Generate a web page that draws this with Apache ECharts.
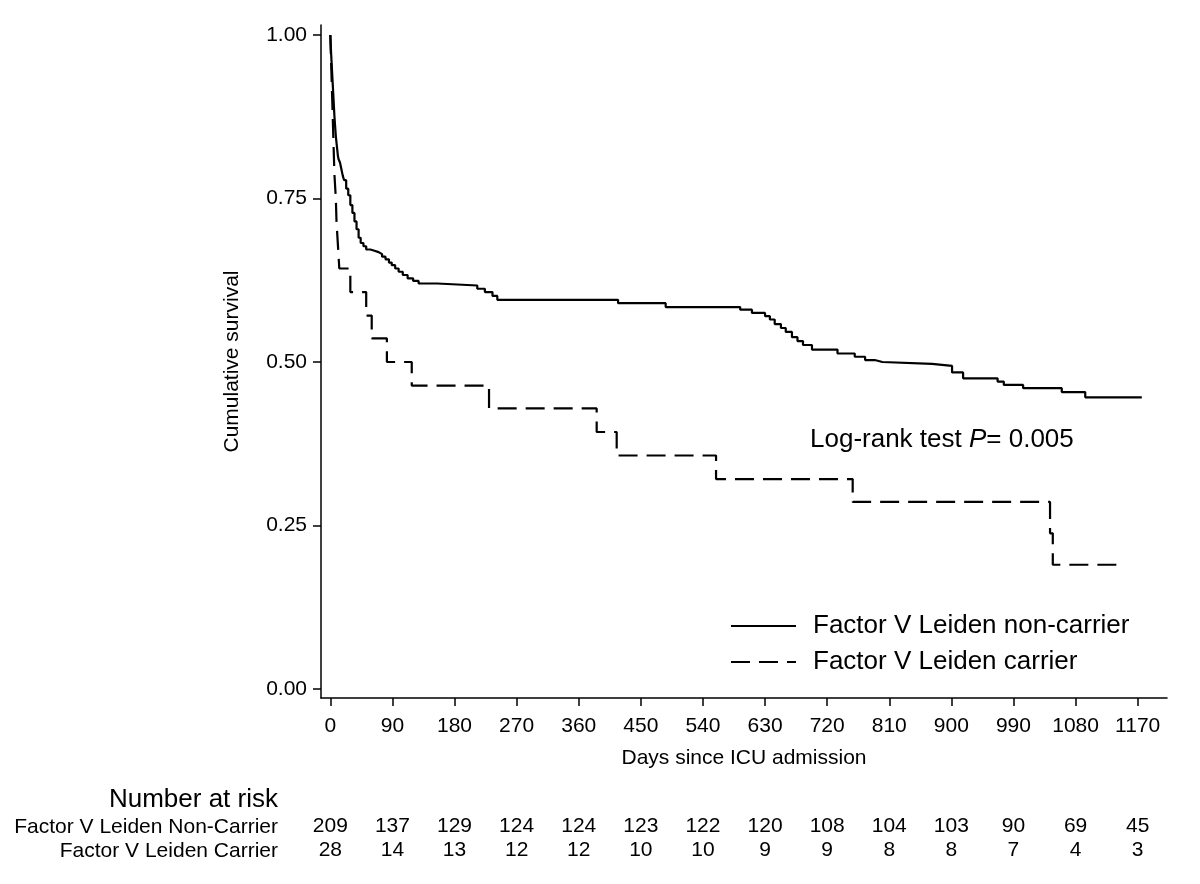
<!DOCTYPE html>
<html>
<head>
<meta charset="utf-8">
<script src="https://cdn.jsdelivr.net/npm/echarts@6/dist/echarts.min.js"></script>
<style>html,body{margin:0;padding:0;background:#fff;}#c{width:1200px;height:884px;}</style>
</head>
<body>
<div id="c"></div>
<script>
// ---- data ----
const xTicks = [0, 90, 180, 270, 360, 450, 540, 630, 720, 810, 900, 990, 1080, 1170];
const yTicks = [0, 0.25, 0.5, 0.75, 1.0];
const riskNonCarrier = [209, 137, 129, 124, 124, 123, 122, 120, 108, 104, 103, 90, 69, 45];
const riskCarrier = [28, 14, 13, 12, 12, 10, 10, 9, 9, 8, 8, 7, 4, 3];

const nonCarrierDays = [0, 1, 2, 3, 4, 5, 6, 7, 8, 9, 10, 11, 12, 14, 16, 18, 20, 23, 26, 29, 32, 35, 38, 41, 44, 48, 52, 58, 64, 70, 75, 80, 85, 89, 94, 99, 105, 112, 120, 128, 155, 213, 224, 235, 242, 417, 486, 594, 611, 630, 637, 644, 653, 660, 669, 677, 685, 698, 735, 760, 775, 789, 800, 872, 901, 917, 967, 976, 1004, 1060, 1094, 1176];
const nonCarrierSurv = [1.0, 0.975, 0.955, 0.935, 0.915, 0.895, 0.875, 0.86, 0.845, 0.835, 0.825, 0.815, 0.81, 0.805, 0.795, 0.785, 0.778, 0.765, 0.755, 0.74, 0.728, 0.715, 0.703, 0.69, 0.682, 0.677, 0.672, 0.67, 0.668, 0.665, 0.661, 0.657, 0.652, 0.648, 0.643, 0.638, 0.633, 0.628, 0.624, 0.62, 0.617, 0.612, 0.607, 0.601, 0.595, 0.590, 0.584, 0.580, 0.575, 0.570, 0.565, 0.558, 0.552, 0.546, 0.538, 0.532, 0.526, 0.519, 0.513, 0.508, 0.503, 0.500, 0.497, 0.494, 0.484, 0.475, 0.470, 0.465, 0.460, 0.454, 0.446, 0.446];

const carrierDays = [0, 1, 2, 3, 4, 5, 6, 8, 9, 11, 13, 29, 52, 60, 82, 118, 230, 386, 415, 559, 757, 1043, 1047, 1149];
const carrierSurv = [1.0, 0.964, 0.929, 0.893, 0.857, 0.821, 0.786, 0.75, 0.714, 0.679, 0.643, 0.607, 0.571, 0.536, 0.5, 0.464, 0.429, 0.393, 0.357, 0.321, 0.286, 0.238, 0.19, 0.19];

const seriesNames = ['Factor V Leiden non-carrier', 'Factor V Leiden carrier'];
const rowLabels = ['Factor V Leiden Non-Carrier', 'Factor V Leiden Carrier'];

// ---- chart ----
const FONT = '"Liberation Sans", Arial, Helvetica, sans-serif';
const chart = echarts.init(document.getElementById('c'), null, {renderer: 'canvas'});
const xMin = -13.5, xMax = 1212.5;
const axisLine = {show: true, onZero: false, lineStyle: {color: '#000', width: 1.5}};

function riskAxis(values, offset) {
  return {
    type: 'value', gridIndex: 0, position: 'bottom', offset: offset,
    min: xMin, max: xMax,
    axisLine: {show: false}, axisTick: {show: false}, splitLine: {show: false},
    axisLabel: {
      customValues: xTicks, margin: 8, fontSize: 21, color: '#000', fontFamily: FONT,
      formatter: v => { const i = xTicks.indexOf(v); return i >= 0 ? String(values[i]) : ''; }
    }
  };
}

chart.setOption({
  animation: false,
  backgroundColor: '#fff',
  textStyle: {fontFamily: FONT, color: '#000'},
  grid: {left: 321, top: 25, width: 846, height: 673, containLabel: false},
  xAxis: [
    {
      type: 'value', min: xMin, max: xMax,
      axisLine: axisLine,
      axisTick: {show: true, customValues: xTicks, length: 8, lineStyle: {color: '#000', width: 1.5}},
      axisLabel: {customValues: xTicks, margin: 18, fontSize: 21, color: '#000', fontFamily: FONT,
        formatter: v => String(v)},
      splitLine: {show: false},
      name: 'Days since ICU admission', nameLocation: 'middle', nameGap: 50,
      nameTextStyle: {fontSize: 21, color: '#000', fontFamily: FONT}
    },
    riskAxis(riskNonCarrier, 110),
    riskAxis(riskCarrier, 134)
  ],
  yAxis: {
    type: 'value', min: -0.01376, max: 1.0153,
    axisLine: axisLine,
    axisTick: {show: true, customValues: yTicks, length: 8, lineStyle: {color: '#000', width: 1.5}},
    axisLabel: {customValues: yTicks, margin: 14, fontSize: 21, color: '#000', fontFamily: FONT,
      formatter: v => v.toFixed(2)},
    splitLine: {show: false},
    name: 'Cumulative survival', nameLocation: 'middle', nameGap: 78,
    nameTextStyle: {fontSize: 21, color: '#000', fontFamily: FONT}
  },
  legend: {
    orient: 'vertical', left: 730, top: 613, padding: 0,
    itemWidth: 65, itemHeight: 14, itemGap: 10,
    itemStyle: {opacity: 0},
    lineStyle: {opacity: 1},
    textStyle: {fontSize: 26, color: '#000', fontFamily: FONT, padding: [0, 0, 0, 12]},
    data: seriesNames
  },
  series: [
    {
      name: seriesNames[0], type: 'line', step: 'end', symbol: 'none',
      lineStyle: {color: '#000', width: 2.2, type: 'solid'},
      itemStyle: {color: '#000'},
      data: nonCarrierDays.map((d, i) => [d, nonCarrierSurv[i]])
    },
    {
      name: seriesNames[1], type: 'line', step: 'end', symbol: 'none',
      lineStyle: {color: '#000', width: 2.2, type: [19, 9]},
      itemStyle: {color: '#000'},
      data: carrierDays.map((d, i) => [d, carrierSurv[i]])
    }
  ],
  graphic: [
    {type: 'text', x: 810, y: 440, style: {
      text: '{n|Log-rank test }{i|P}{n|= 0.005}', verticalAlign: 'middle', align: 'left',
      rich: {n: {fontSize: 26, fontFamily: FONT, fill: '#000'}, i: {fontSize: 26, fontFamily: FONT, fontStyle: 'italic', fill: '#000'}}
    }},
    {type: 'text', x: 278, y: 800, style: {text: 'Number at risk', fontSize: 26, fontFamily: FONT, fill: '#000', align: 'right', verticalAlign: 'middle'}},
    {type: 'text', x: 278, y: 827, style: {text: rowLabels[0], fontSize: 21, fontFamily: FONT, fill: '#000', align: 'right', verticalAlign: 'middle'}},
    {type: 'text', x: 278, y: 851, style: {text: rowLabels[1], fontSize: 21, fontFamily: FONT, fill: '#000', align: 'right', verticalAlign: 'middle'}}
  ]
});
</script>
</body>
</html>
